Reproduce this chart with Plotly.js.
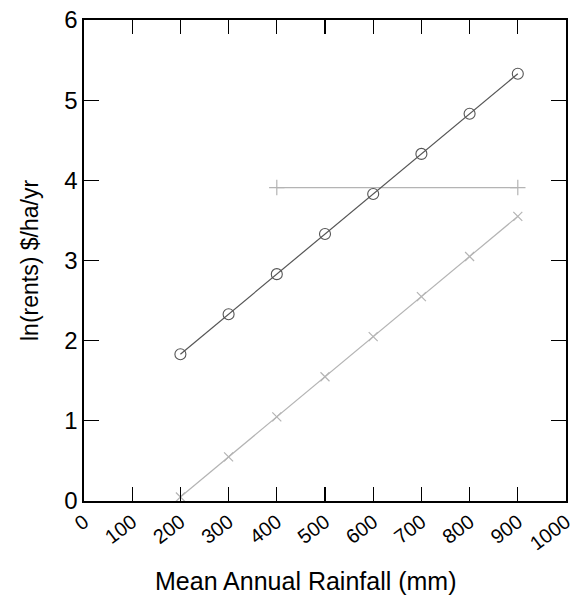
<!DOCTYPE html>
<html><head><meta charset="utf-8">
<script src="https://cdn.plot.ly/plotly-3.0.1.min.js"></script>
<style>body{margin:0;padding:0;background:#fff}#chart{width:579px;height:598px}</style>
</head><body><div id="chart"></div>
<script>
const rainfall = [200, 300, 400, 500, 600, 700, 800, 900];
const circleSeries = [1.83, 2.33, 2.83, 3.33, 3.83, 4.33, 4.83, 5.33];
const crossSeries = [0.05, 0.55, 1.05, 1.55, 2.05, 2.55, 3.05, 3.55];
const flatX = [400, 900];
const flatY = [3.91, 3.91];
const xTicks = [0, 100, 200, 300, 400, 500, 600, 700, 800, 900, 1000];
const yTicks = [0, 1, 2, 3, 4, 5, 6];
const xTitle = 'Mean Annual Rainfall (mm)';
const yTitle = 'ln(rents) $/ha/yr';

const traces = [
  {x: flatX, y: flatY, mode: 'lines+markers', line: {color: '#b4b4b4', width: 1.2},
   marker: {symbol: 'cross-thin', size: 11, line: {color: '#b4b4b4', width: 1.2}}},
  {x: rainfall, y: crossSeries, mode: 'lines+markers', line: {color: '#b4b4b4', width: 1.2},
   marker: {symbol: 'x-thin', size: 9, line: {color: '#b4b4b4', width: 1.2}}},
  {x: rainfall, y: circleSeries, mode: 'lines+markers', line: {color: '#555555', width: 1.2},
   marker: {symbol: 'circle-open', size: 11, color: '#555555', line: {color: '#555555', width: 1.1}}}
];
const font = {family: 'Liberation Sans, Arial, sans-serif', color: '#000'};
const layout = {
  width: 579, height: 598, showlegend: false,
  paper_bgcolor: '#fff', plot_bgcolor: '#fff',
  margin: {l: 83.5, r: 13, t: 19.5, b: 96.5},
  font: font,
  xaxis: {range: [0, 1000], tickvals: xTicks, ticktext: xTicks.map(String), tickangle: -37,
    ticks: 'inside', ticklen: 14, tickwidth: 1.2, tickcolor: '#000', mirror: 'ticks',
    showline: true, linecolor: '#000', linewidth: 1.6, showgrid: false, zeroline: false,
    tickfont: {size: 20, family: font.family}},
  yaxis: {range: [0, 6], tickvals: yTicks, ticktext: yTicks.map(String),
    ticks: 'inside', ticklen: 15, tickwidth: 1.2, tickcolor: '#000', mirror: 'ticks',
    showline: true, linecolor: '#000', linewidth: 1.6, showgrid: false, zeroline: false,
    tickfont: {size: 24, family: font.family},
    title: {text: yTitle, font: {size: 23, family: font.family}, standoff: 19}},
  annotations: [{text: xTitle, xref: 'paper', yref: 'paper', x: 0.461, y: -0.167,
    xanchor: 'center', yanchor: 'middle', showarrow: false,
    font: {size: 25, family: font.family, color: '#000'}}]
};
Plotly.newPlot('chart', traces, layout, {displayModeBar: false, staticPlot: true});
</script></body></html>
